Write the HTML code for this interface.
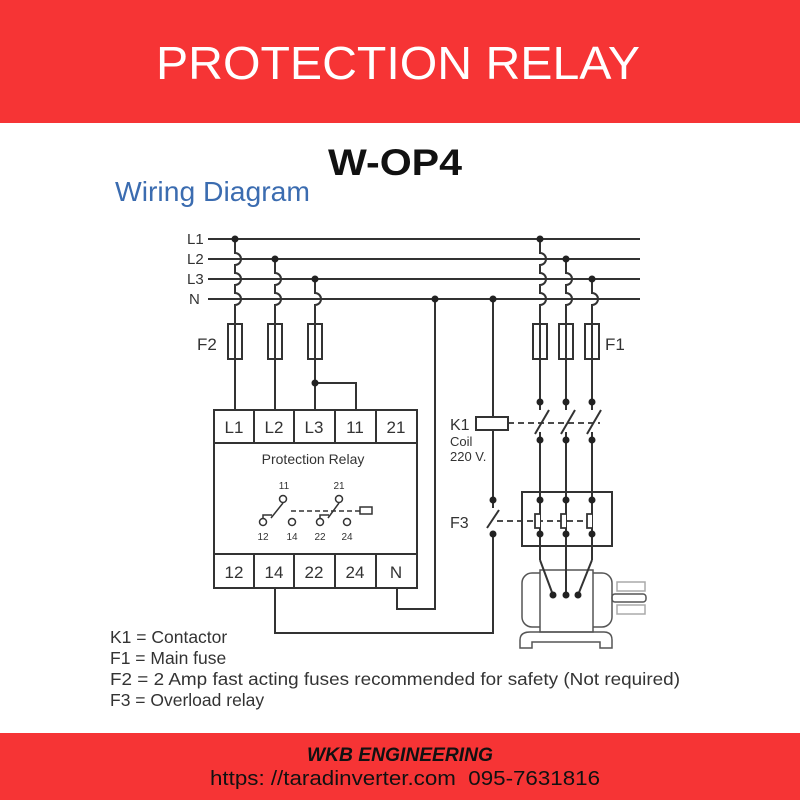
<!DOCTYPE html>
<html><head><meta charset="utf-8"><style>
html,body{margin:0;padding:0;background:#fff;}
body{width:800px;height:800px;position:relative;overflow:hidden;font-family:"Liberation Sans",sans-serif;}
</style></head><body>
<svg width="800" height="800" viewBox="0 0 800 800" xmlns="http://www.w3.org/2000/svg" style="position:absolute;left:0;top:0">
<rect x="0" y="0" width="800" height="123" fill="#f63435"/>
<text x="398" y="79" text-anchor="middle" fill="#fff" font-size="46" font-family="Liberation Sans" textLength="484" lengthAdjust="spacingAndGlyphs">PROTECTION RELAY</text>
<text x="395" y="175" text-anchor="middle" fill="#111" font-size="37" font-weight="bold" font-family="Liberation Sans" textLength="134" lengthAdjust="spacingAndGlyphs">W-OP4</text>
<text x="115" y="201" fill="#3b6cb0" font-size="28" font-family="Liberation Sans" textLength="195" lengthAdjust="spacingAndGlyphs">Wiring Diagram</text>

<g stroke="#333" stroke-width="2" fill="none" font-family="Liberation Sans">
<line x1="208" y1="239" x2="640" y2="239"/>
<line x1="208" y1="259" x2="640" y2="259"/>
<line x1="208" y1="279" x2="640" y2="279"/>
<line x1="208" y1="299" x2="640" y2="299"/>
<path d="M235 239 V253 a6 6 0 0 1 0 12 V273 a6 6 0 0 1 0 12 V293 a6 6 0 0 1 0 12 V324"/>
<path d="M275 259 V273 a6 6 0 0 1 0 12 V293 a6 6 0 0 1 0 12 V324"/>
<path d="M315 279 V293 a6 6 0 0 1 0 12 V324"/>
<path d="M540 239 V253 a6 6 0 0 1 0 12 V273 a6 6 0 0 1 0 12 V293 a6 6 0 0 1 0 12 V324"/>
<path d="M566 259 V273 a6 6 0 0 1 0 12 V293 a6 6 0 0 1 0 12 V324"/>
<path d="M592 279 V293 a6 6 0 0 1 0 12 V324"/>
<rect x="228" y="324" width="14" height="35"/><line x1="235" y1="324" x2="235" y2="359"/>
<rect x="268" y="324" width="14" height="35"/><line x1="275" y1="324" x2="275" y2="359"/>
<rect x="308" y="324" width="14" height="35"/><line x1="315" y1="324" x2="315" y2="359"/>
<rect x="533" y="324" width="14" height="35"/><line x1="540" y1="324" x2="540" y2="359"/>
<rect x="559" y="324" width="14" height="35"/><line x1="566" y1="324" x2="566" y2="359"/>
<rect x="585" y="324" width="14" height="35"/><line x1="592" y1="324" x2="592" y2="359"/>
<line x1="235" y1="359" x2="235" y2="410"/>
<line x1="275" y1="359" x2="275" y2="410"/>
<line x1="315" y1="359" x2="315" y2="410"/>
<path d="M315 383 H356 V410"/>
<rect x="214" y="410" width="203" height="178"/>
<line x1="214" y1="443" x2="417" y2="443"/>
<line x1="214" y1="554" x2="417" y2="554"/>
<line x1="254" y1="410" x2="254" y2="443"/><line x1="294" y1="410" x2="294" y2="443"/><line x1="335" y1="410" x2="335" y2="443"/><line x1="376" y1="410" x2="376" y2="443"/>
<line x1="254" y1="554" x2="254" y2="588"/><line x1="294" y1="554" x2="294" y2="588"/><line x1="335" y1="554" x2="335" y2="588"/><line x1="376" y1="554" x2="376" y2="588"/>
<path d="M435 299 V609 H397 V588"/>
<path d="M493 299 V417"/>
<rect x="476" y="417" width="32" height="13"/>
<path d="M493 430 V500"/>
<path d="M493 500 V508 M487 528 L499 510 M493 534 V633 H275 V588"/>
<path d="M540 359 V410 M540 440 V432 M535 434 L549 410"/>
<path d="M566 359 V410 M566 440 V432 M561 434 L575 410"/>
<path d="M592 359 V410 M592 440 V432 M587 434 L601 410"/>
<line x1="540" y1="440" x2="540" y2="560"/>
<line x1="566" y1="440" x2="566" y2="595"/>
<line x1="592" y1="440" x2="592" y2="560"/>
<rect x="522" y="492" width="90" height="54"/>
</g>
<g stroke="#333" stroke-width="1.8" fill="none">
<line x1="508" y1="423" x2="600" y2="423" stroke-dasharray="6 4"/>
<line x1="497" y1="521" x2="588" y2="521" stroke-dasharray="6 4"/>
<path d="M540 500 V514 H535 V528 H540 V534" fill="#fff"/>
<path d="M566 500 V514 H561 V528 H566 V534" fill="#fff"/>
<path d="M592 500 V514 H587 V528 H592 V534" fill="#fff"/>
</g>
<g fill="#222">
<circle cx="235" cy="239" r="3.5"/><circle cx="275" cy="259" r="3.5"/><circle cx="315" cy="279" r="3.5"/>
<circle cx="540" cy="239" r="3.5"/><circle cx="566" cy="259" r="3.5"/><circle cx="592" cy="279" r="3.5"/>
<circle cx="435" cy="299" r="3.5"/><circle cx="493" cy="299" r="3.5"/><circle cx="315" cy="383" r="3.5"/>
<circle cx="540" cy="402" r="3.5"/><circle cx="566" cy="402" r="3.5"/><circle cx="592" cy="402" r="3.5"/>
<circle cx="540" cy="440" r="3.5"/><circle cx="566" cy="440" r="3.5"/><circle cx="592" cy="440" r="3.5"/>
<circle cx="540" cy="500" r="3.5"/><circle cx="566" cy="500" r="3.5"/><circle cx="592" cy="500" r="3.5"/>
<circle cx="540" cy="534" r="3.5"/><circle cx="566" cy="534" r="3.5"/><circle cx="592" cy="534" r="3.5"/>
<circle cx="493" cy="500" r="3.5"/><circle cx="493" cy="534" r="3.5"/>
</g>
<g stroke="#333" stroke-width="1.5" fill="#fff">
<line x1="291" y1="511" x2="360" y2="511" stroke-dasharray="5 3"/>
<rect x="360" y="507" width="12" height="7"/>
<path d="M263 518 V515 H272 M271 518 L283 503" fill="none"/>
<path d="M320 518 V515 H329 M328 518 L339 503" fill="none"/>
<circle cx="283" cy="499" r="3.5"/><circle cx="339" cy="499" r="3.5"/>
<circle cx="263" cy="522" r="3.5"/><circle cx="292" cy="522" r="3.5"/><circle cx="320" cy="522" r="3.5"/><circle cx="347" cy="522" r="3.5"/>
</g>
<g stroke="#555" stroke-width="1.5" fill="none">
<rect x="522" y="573" width="90" height="54" rx="10"/>
<rect x="540" y="570" width="53" height="62" fill="#fff"/>
<path d="M520 648 V640 Q520 632 530 632 H604 Q612 632 612 640 V648 H600 V642 H532 V648 Z"/>
<rect x="612" y="594" width="34" height="8" rx="3"/>
<rect x="617" y="582" width="28" height="9" stroke="#aaa"/>
<rect x="617" y="605" width="28" height="9" stroke="#aaa"/>
</g>
<g stroke="#333" stroke-width="2"><path d="M540 560 L553 595 M566 560 V595 M592 560 L578 595"/></g>
<g fill="#222"><circle cx="553" cy="595" r="3.5"/><circle cx="566" cy="595" r="3.5"/><circle cx="578" cy="595" r="3.5"/></g>

<g fill="#333" font-family="Liberation Sans" font-size="15">
<text x="187" y="244">L1</text><text x="187" y="264">L2</text><text x="187" y="284">L3</text><text x="189" y="304">N</text>
<text x="197" y="350" font-size="17">F2</text><text x="605" y="350" font-size="17">F1</text>
<g font-size="17" text-anchor="middle">
<text x="234" y="433">L1</text><text x="274" y="433">L2</text><text x="314" y="433">L3</text><text x="355" y="433">11</text><text x="396" y="433">21</text>
<text x="234" y="578">12</text><text x="274" y="578">14</text><text x="314" y="578">22</text><text x="355" y="578">24</text><text x="396" y="578">N</text>
</g>
<text x="313" y="464" font-size="14" text-anchor="middle">Protection Relay</text>
<g font-size="10" text-anchor="middle"><text x="284" y="489">11</text><text x="339" y="489">21</text><text x="263" y="540">12</text><text x="292" y="540">14</text><text x="320" y="540">22</text><text x="347" y="540">24</text></g>
<text x="450" y="430" font-size="16">K1</text>
<text x="450" y="446" font-size="13">Coil</text>
<text x="450" y="461" font-size="13">220 V.</text>
<text x="450" y="528" font-size="16">F3</text>
<g font-size="17.5">
<text x="110" y="643">K1 = Contactor</text>
<text x="110" y="664">F1 = Main fuse</text>
<text x="110" y="685" textLength="570" lengthAdjust="spacingAndGlyphs">F2 = 2 Amp fast acting fuses recommended for safety (Not required)</text>
<text x="110" y="706">F3 = Overload relay</text>
</g>
</g>
<rect x="0" y="733" width="800" height="67" fill="#f63435"/>
<text x="400" y="761" text-anchor="middle" font-size="19" font-weight="bold" font-style="italic" fill="#111" font-family="Liberation Sans" textLength="186" lengthAdjust="spacingAndGlyphs">WKB ENGINEERING</text>
<text x="405" y="785" text-anchor="middle" font-size="20" fill="#111" font-family="Liberation Sans" textLength="390" lengthAdjust="spacingAndGlyphs" xml:space="preserve">https: //taradinverter.com  095-7631816</text>
</svg>
</body></html>
